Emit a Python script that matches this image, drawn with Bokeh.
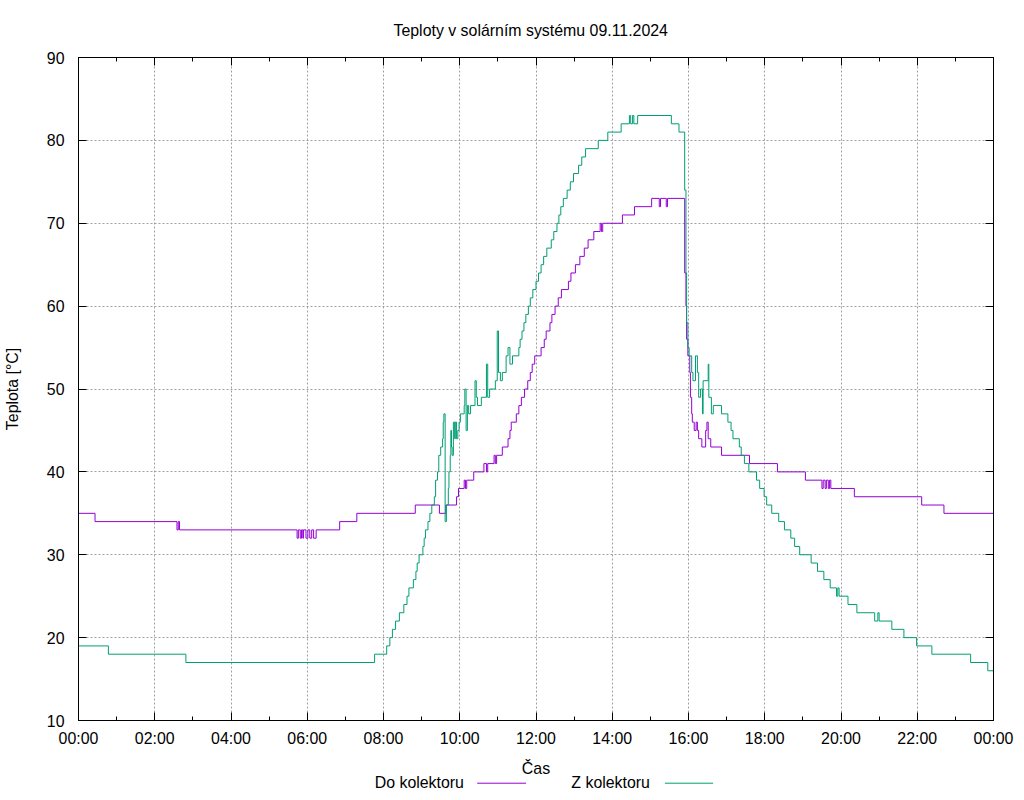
import pandas as pd
from bokeh.plotting import figure
from bokeh.layouts import column
from bokeh.models import (Range1d, DatetimeTickFormatter, FixedTicker, SingleIntervalTicker,
                          LinearAxis, DatetimeAxis, CustomJSTickFormatter)
from bokeh.core.properties import value
from bokeh.embed import file_html
from bokeh.resources import INLINE

DAY = "2024-11-09"
TITLE = "Teploty v solárním systému 09.11.2024"
Y_LABEL = "Teplota [°C]"
X_LABEL = "Čas"
SERIES_NAMES = ["Do kolektoru", "Z kolektoru"]
COLORS = ["#9400D3", "#009E73"]

# Do kolektoru (step changes: time -> temperature)
do_t = ["00:00","00:26","02:35","02:37","02:39","05:44","05:46","05:49","05:51","05:53",
        "05:54","05:58","06:01","06:04","06:07","06:10","06:14","06:51","07:18","08:50",
        "09:28","09:38","09:55","09:58","10:07","10:09","10:11","10:22","10:38","10:42",
        "10:44","10:54","10:56","10:58","11:07","11:16","11:19","11:21","11:29","11:33",
        "11:37","11:42","11:47","11:51","11:54","11:58","12:08","12:13","12:16","12:22",
        "12:25","12:30","12:35","12:40","12:51","12:55","13:02","13:09","13:16","13:22",
        "13:31","13:41","13:43","13:45","14:16","14:35","15:02","15:14","15:16","15:25",
        "15:27","15:54","15:56","15:57","15:59","16:02","16:03","16:05","16:06","16:09",
        "16:12","16:14","16:16","16:21","16:27","16:29","16:31","16:35","16:52","17:36",
        "18:20","19:04","19:30","19:32","19:35","19:37","19:40","19:42","19:44","20:21",
        "22:07","22:42","24:00"]
do_v = [35,34,33,34,33,32,33,32,33,32,
        33,32,33,32,33,32,33,34,35,36,
        35,36,37,38,39,38,39,40,41,40,
        41,42,41,42,43,44,45,46,47,48,
        49,50,51,52,53,54,55,56,57,58,
        59,60,61,62,63,64,65,66,67,68,
        69,70,69,70,71,72,73,72,73,72,
        73,64,60,56,54,52,49,47,46,45,
        46,45,44,43,45,46,44,43,42,41,
        40,39,38,39,38,39,38,39,38,37,
        36,35,35]

# Z kolektoru
z_t = ["00:00","00:47","02:49","07:46","08:05","08:10","08:14","08:19","08:25","08:32",
       "08:37","08:40","08:47","08:51","08:53","08:56","09:02","09:04","09:06","09:10",
       "09:13","09:16","09:20","09:22","09:25","09:27","09:30","09:33","09:34","09:35",
       "09:37","09:39","09:42","09:43","09:45","09:46","09:47","09:48","09:50","09:52",
       "09:53","09:55","09:57","09:59","10:01","10:07","10:08","10:10","10:12","10:14",
       "10:17","10:24","10:26","10:28","10:34","10:42","10:44","10:47","10:56","10:59",
       "11:01","11:04","11:07","11:13","11:16","11:19","11:23","11:33","11:35","11:38",
       "11:41","11:44","11:48","11:51","11:55","12:00","12:04","12:08","12:12","12:17",
       "12:24","12:28","12:33","12:36","12:39","12:43","12:49","12:54","12:59","13:07",
       "13:12","13:18","13:38","13:53","14:14","14:27","14:29","14:32","14:34","14:40",
       "15:33","15:45","15:54","15:56","15:57","15:59","16:01","16:05","16:07","16:11",
       "16:14","16:16","16:19","16:22","16:23","16:31","16:32","16:36","16:39","16:52",
       "17:02","17:07","17:10","17:20","17:23","17:28","17:35","17:47","17:52","17:59",
       "18:03","18:11","18:22","18:31","18:41","18:47","18:55","19:13","19:23","19:33",
       "19:43","19:53","19:55","19:57","20:11","20:25","20:53","20:58","21:00","21:20",
       "21:39","21:59","22:23","23:24","23:51","24:00"]
z_v = [19,18,17,18,19,20,21,22,23,24,
       25,26,27,28,29,30,31,32,33,34,
       35,36,37,39,40,42,43,44,46,47,
       34,36,38,40,42,45,43,42,46,44,
       46,44,45,46,47,48,50,45,48,47,
       48,51,49,48,49,53,49,50,51,57,
       52,51,52,54,55,53,54,55,56,57,
       58,59,60,61,62,63,64,65,66,67,
       68,69,70,71,72,73,74,75,76,77,
       78,79,80,81,82,83,82,83,82,83,
       82,81,74,64,58,55,54,52,51,54,
       52,49,50,47,51,53,49,47,48,47,
       46,45,44,43,42,41,40,39,38,37,
       36,35,34,33,32,31,30,29,28,27,
       26,25,26,25,24,23,22,23,22,21,
       20,19,18,17,16,16]

x_major_hours = list(range(0, 25, 2))
x_minor_hours = list(range(0, 25, 1))
y_min, y_max, y_step = 10, 90, 10

FONT = "Liberation Sans"
FS = "15.9px"

base = pd.Timestamp(DAY)

def to_dt(t):
    h, m = t.split(":")
    return base + pd.Timedelta(hours=int(h), minutes=int(m))

def ms(hours):
    return (base + pd.Timedelta(hours=hours)).value / 1e6

MAIN_H = 779
p = figure(width=1024, height=MAIN_H, x_axis_type="datetime", output_backend="svg",
           toolbar_location=None, min_border_left=75, min_border_right=31,
           min_border_top=57, min_border_bottom=MAIN_H - 720,
           x_range=Range1d(ms(0), ms(24)), y_range=Range1d(y_min, y_max))
p.background_fill_color = "white"
p.border_fill_color = "white"
p.outline_line_color = "black"
p.outline_line_width = 1

p.title.text = TITLE
p.title.align = "left"
p.title.offset = 315
p.title.text_font = FONT
p.title.text_font_size = FS
p.title.text_font_style = "normal"
p.title.text_color = "black"
p.title.standoff = 38

for tt, vv, col in [(do_t, do_v, COLORS[0]), (z_t, z_v, COLORS[1])]:
    p.step([to_dt(t) for t in tt], vv, mode="after", line_color=col, line_width=1)

xticker = FixedTicker(ticks=[ms(h) for h in x_major_hours], minor_ticks=[ms(h) for h in x_minor_hours])
fmt = "%H:%M"
xfmt = DatetimeTickFormatter(microseconds=fmt, milliseconds=fmt, seconds=fmt, minsec=fmt,
                             minutes=fmt, hourmin=fmt, hours=fmt, days=fmt, months=fmt, years=fmt)
yticker = SingleIntervalTicker(interval=y_step, num_minor_ticks=0)

p.xaxis.ticker = xticker
p.xaxis.formatter = xfmt
p.yaxis.ticker = yticker

for ax in [p.xaxis[0], p.yaxis[0]]:
    ax.major_tick_in = 8
    ax.major_tick_out = 0
    ax.minor_tick_in = 4
    ax.minor_tick_out = 0
    ax.axis_line_color = "black"
    ax.major_tick_line_color = "black"
    ax.minor_tick_line_color = "black"
    ax.major_label_text_font = FONT
    ax.major_label_text_font_size = FS
    ax.major_label_text_color = "black"
    ax.axis_label_text_font = FONT
    ax.axis_label_text_font_size = FS
    ax.axis_label_text_font_style = "normal"
    ax.axis_label_text_color = "black"
p.xaxis.major_label_standoff = 9
p.yaxis.major_label_standoff = 14
p.xaxis.axis_label = X_LABEL
p.xaxis.axis_label_standoff = 10
p.yaxis.axis_label = Y_LABEL
p.yaxis.axis_label_standoff = 23

empty = CustomJSTickFormatter(code="return ''")
top = DatetimeAxis(ticker=xticker, formatter=empty, major_tick_in=8, major_tick_out=0,
                   minor_tick_in=4, minor_tick_out=0, major_label_standoff=0,
                   axis_line_color="black")
right = LinearAxis(ticker=yticker, formatter=empty, major_tick_in=8, major_tick_out=0,
                   minor_tick_in=0, minor_tick_out=0, major_label_standoff=0,
                   axis_line_color="black")
p.add_layout(top, "above")
p.add_layout(right, "right")

p.xgrid.ticker = xticker
p.ygrid.ticker = yticker
p.grid.grid_line_color = "#a0a0a0"
p.grid.grid_line_dash = "2 2"
p.grid.grid_line_width = 1

# legend strip (gnuplot style: key text, then line sample); x in page pixels
# (the strip's frame is aligned with the main frame, 75..993); y in px from strip top
STRIP_H = 30
overlap = MAIN_H + STRIP_H - 800
leg = figure(width=1024, height=STRIP_H, output_backend="svg", toolbar_location=None,
             x_range=Range1d(75, 993), y_range=Range1d(STRIP_H, 0),
             x_axis_location=None, y_axis_location=None,
             min_border=0, min_border_left=0, min_border_right=0,
             min_border_top=0, min_border_bottom=0,
             margin=(-overlap, 0, 0, 0))
leg.outline_line_color = None
leg.grid.visible = False
leg.background_fill_color = None
leg.border_fill_color = None
top_px = 800 - STRIP_H
leg.text(x=[461.7, 648.3], y=[782 - top_px] * 2, text=SERIES_NAMES, text_align="right",
         text_baseline="middle", text_font=value(FONT), text_font_size=value(FS),
         text_color="black")
leg.segment(x0=[475, 663.3], y0=[782.7 - top_px] * 2, x1=[524, 711.7], y1=[782.7 - top_px] * 2,
            line_color=COLORS, line_width=1)

layout = column(p, leg, spacing=0)
open("out.html", "w").write(file_html(layout, INLINE))
